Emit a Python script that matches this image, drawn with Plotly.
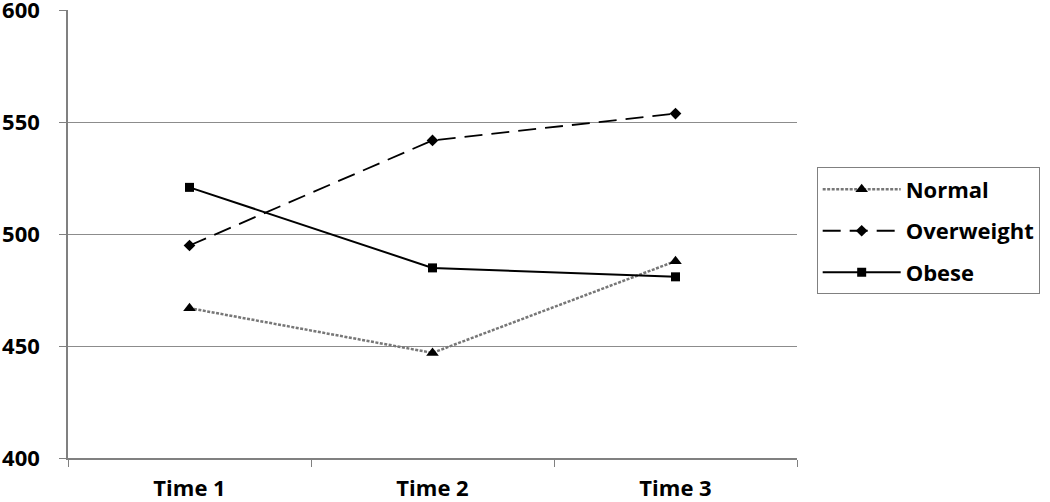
import plotly.graph_objects as go

categories = ["Time 1", "Time 2", "Time 3"]
normal = [467, 447, 488]
overweight = [495, 542, 554]
obese = [521, 485, 481]
y_ticks = [400, 450, 500, 550, 600]

FONT = "Open Sans"

fig = go.Figure()
fig.add_trace(go.Scatter(
    x=categories, y=normal, name="Normal", mode="lines+markers", legendgroup="a",
    line=dict(color="#777777", width=2.5, dash="3px,1.5px"),
    marker=dict(symbol="triangle-up", size=11, color="black"),
))
fig.add_trace(go.Scatter(
    x=categories, y=overweight, name="Overweight", mode="lines+markers", legendgroup="b",
    line=dict(color="black", width=1.8, dash="18px,9px"),
    marker=dict(symbol="diamond", size=9, color="black"),
))
fig.add_trace(go.Scatter(
    x=categories, y=obese, name="Obese", mode="lines+markers", legendgroup="c",
    line=dict(color="black", width=2),
    marker=dict(symbol="square", size=9, color="black"),
))

fig.update_layout(
    width=1050, height=502,
    margin=dict(l=68, r=253, t=10, b=44, autoexpand=False),
    paper_bgcolor="white", plot_bgcolor="white",
    font=dict(family=FONT, size=22, color="black"),
    legend=dict(
        x=1.027, y=0.507, xanchor="left", yanchor="middle",
        bordercolor="#808080", borderwidth=1,
        font=dict(family=FONT, size=22, color="black", weight="bold"),
        itemwidth=78, tracegroupgap=10,
    ),
    showlegend=True,
)
fig.update_xaxes(
    type="category", range=[-0.5, 2.5],
    showline=True, linecolor="#808080", linewidth=1.5,
    ticks="outside", tickson="boundaries", ticklen=7, tickcolor="#808080",
    showgrid=False, automargin=False,
    tickfont=dict(family=FONT, size=22, color="black", weight="bold"),
    ticklabelstandoff=10,
)
fig.update_yaxes(
    range=[400, 600.3], tickvals=y_ticks,
    showline=True, linecolor="#808080", linewidth=1.5,
    ticks="outside", ticklen=7, tickcolor="#808080",
    showgrid=True, gridcolor="#8c8c8c", gridwidth=1,
    zeroline=False, automargin=False, ticklabeloverflow="allow",
    tickfont=dict(family=FONT, size=22, color="black", weight="bold"),
    ticklabelstandoff=15,
)

fig.write_html(
    "out.html",
    config={"displayModeBar": False},
    post_script="document.body.style.margin='0';document.body.style.overflow='hidden';",
)
